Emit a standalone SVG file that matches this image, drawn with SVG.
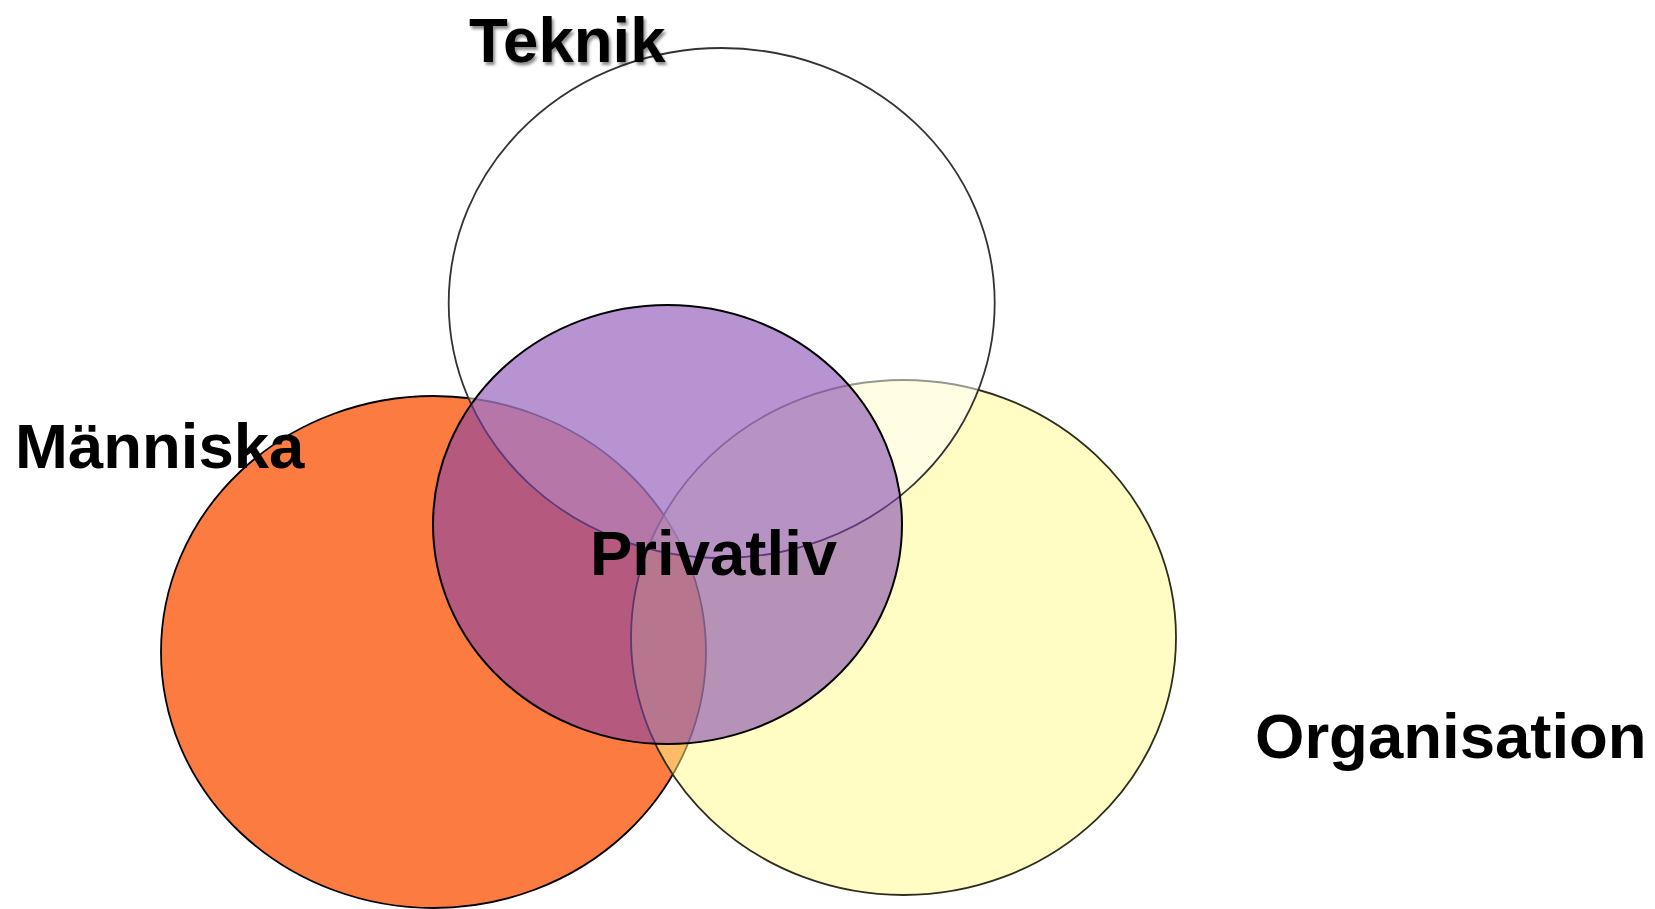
<svg xmlns="http://www.w3.org/2000/svg" width="1655" height="909" viewBox="0 0 1655 909">
  <defs>
    <style>
      .lbl { font-family: "Liberation Sans", Arial, sans-serif; font-weight: bold; font-size: 63.5px; fill: #000000; }
      .ring { stroke-width: 1.8; }
    </style>
    <filter id="shadow" x="-10%" y="-20%" width="130%" height="160%">
      <feDropShadow dx="2" dy="3" stdDeviation="1.5" flood-color="#000000" flood-opacity="0.45"/>
    </filter>
  </defs>
  <rect x="0" y="0" width="1655" height="909" fill="#ffffff"/>

  <g id="manniska">
    <ellipse class="ring" cx="433.5" cy="652" rx="272.5" ry="256" fill="#FC7B40" stroke="#000000"/>
  </g>
  <g id="organisation">
    <ellipse class="ring" cx="903.5" cy="637.5" rx="272.5" ry="257.5" fill="#FFFB89" fill-opacity="0.5" stroke="#2e2e1c"/>
  </g>
  <g id="teknik">
    <ellipse class="ring" cx="721.7" cy="303" rx="273" ry="255" fill="#ffffff" fill-opacity="0.5" stroke="#333333"/>
  </g>
  <g id="privatliv">
    <ellipse cx="667.5" cy="524.5" rx="234.5" ry="219.5" fill="#7E3EAF" fill-opacity="0.56" stroke="#000000" stroke-width="2"/>
  </g>

  <g id="connectors"></g>

  <g id="labels">
    <text id="label-teknik" class="lbl" x="469" y="61.7" filter="url(#shadow)">Teknik</text>
    <text id="label-manniska" class="lbl" x="15" y="468">Människa</text>
    <text id="label-privatliv" class="lbl" x="590" y="575">Privatliv</text>
    <text id="label-organisation" class="lbl" x="1255" y="758">Organisation</text>
  </g>
</svg>
